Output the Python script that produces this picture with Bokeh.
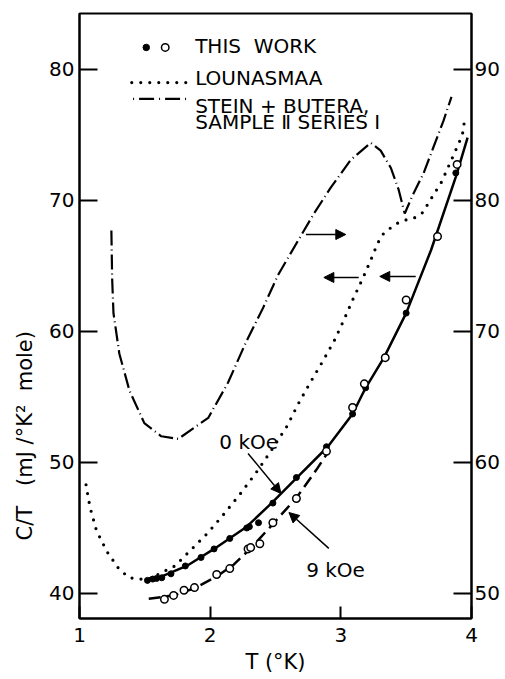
from bokeh.plotting import figure
from bokeh.models import (Range1d, LinearAxis, FixedTicker, Label, Arrow,
                          NormalHead, Title)
from bokeh.embed import file_html
from bokeh.resources import INLINE

# ---------------- data ----------------
x_ticks = [1, 2, 3, 4]
left_ticks = [40, 50, 60, 70, 80]
right_ticks = [50, 60, 70, 80, 90]

# Lounasmaa (left axis)
lou_T = [1.05, 1.08, 1.13, 1.21, 1.30, 1.38, 1.47, 1.53, 1.73, 1.86, 1.98, 2.10,
         2.23, 2.35, 2.46, 2.59, 2.67, 2.76, 2.86, 2.95, 3.02, 3.09, 3.17, 3.24,
         3.28, 3.32, 3.38, 3.44, 3.51, 3.57, 3.63, 3.67, 3.77, 3.86, 3.93, 3.95]
lou_C = [48.3, 46.6, 44.8, 43.2, 41.9, 41.2, 41.1, 41.1, 42.1, 43.4, 44.6, 46.0,
         47.6, 49.2, 50.8, 52.8, 54.4, 56.0, 57.7, 59.3, 60.8, 62.4, 64.1, 65.7,
         66.7, 67.4, 67.9, 68.3, 68.55, 68.7, 69.1, 69.8, 71.4, 73.4, 75.0, 76.3]

# Stein + Butera, sample II series I (right axis)
sb_T = [1.244, 1.25, 1.26, 1.305, 1.382, 1.496, 1.626, 1.756, 1.985, 2.137, 2.275,
        2.405, 2.519, 2.618, 2.794, 2.924, 3.076, 3.229, 3.305, 3.382, 3.443,
        3.489, 3.55, 3.634, 3.71, 3.786, 3.847]
sb_C = [77.7, 74.0, 71.4, 68.3, 65.5, 63.0, 62.0, 61.8, 63.4, 66.1, 69.2,
        71.8, 74.3, 76.0, 79.0, 81.0, 83.1, 84.4, 83.8, 82.5, 80.8,
        79.0, 80.4, 82.1, 84.1, 86.1, 87.9]

# This work, 0 kOe: smooth curve and filled points
s0_T = [1.52, 1.63, 1.82, 2.03, 2.28, 2.47, 2.66, 2.90, 3.09, 3.19, 3.33, 3.50,
        3.69, 3.88, 3.97]
s0_C = [41.0, 41.3, 42.1, 43.4, 45.1, 46.9, 48.8, 51.2, 53.7, 55.7, 58.0, 61.4,
        66.2, 71.8, 74.8]
f_T = [1.52, 1.56, 1.59, 1.63, 1.70, 1.81, 1.93, 2.03, 2.15, 2.28, 2.30, 2.37,
       2.48, 2.66, 2.89, 3.09, 3.19, 3.50, 3.88]
f_C = [41.0, 41.1, 41.15, 41.2, 41.5, 42.1, 42.75, 43.4, 44.2, 45.0, 45.1, 45.4,
       46.9, 48.85, 51.2, 53.7, 55.7, 61.4, 72.1]

# This work, 9 kOe: dashed curve and open points
d9_T = [1.53, 1.72, 1.88, 2.05, 2.18, 2.31, 2.48, 2.66, 2.81, 2.91]
d9_C = [39.6, 39.85, 40.4, 41.3, 42.2, 43.45, 45.3, 47.3, 49.4, 50.9]
o_T = [1.65, 1.72, 1.80, 1.88, 2.05, 2.15, 2.29, 2.31, 2.38, 2.48, 2.66, 2.89,
       3.09, 3.18, 3.34, 3.50, 3.74, 3.89]
o_C = [39.55, 39.85, 40.25, 40.45, 41.45, 41.9, 43.4, 43.5, 43.8, 45.4, 47.25,
       50.85, 54.2, 56.0, 58.0, 62.4, 67.25, 72.75]

# ---------------- figure ----------------
FONT = "DejaVu Sans"
FS = "20px"
FS_T = "21px"
Y0, Y1 = 38.09, 84.27
OFFSET = 10  # right axis = left axis + 10

p = figure(width=502, height=679, x_range=Range1d(1, 4), y_range=Range1d(Y0, Y1),
           output_backend="svg", toolbar_location=None,
           min_border_left=78, min_border_right=31, min_border_top=13,
           min_border_bottom=61)
p.extra_y_ranges = {"right": Range1d(Y0 + OFFSET, Y1 + OFFSET)}
p.grid.visible = False
p.outline_line_color = "black"
p.outline_line_width = 2
p.background_fill_color = "white"
p.border_fill_color = "white"

def style_axis(ax, ticks, tick_in):
    ax.ticker = FixedTicker(ticks=ticks)
    ax.major_tick_in = tick_in
    ax.major_tick_out = 0
    ax.major_tick_line_width = 2
    ax.major_tick_line_color = "black"
    ax.minor_tick_line_color = None
    ax.axis_line_width = 2
    ax.axis_line_color = "black"
    ax.major_label_text_font = FONT
    ax.major_label_text_font_size = FS
    ax.major_label_text_color = "black"

xa = p.xaxis[0]
style_axis(xa, x_ticks, 12)
xa.major_label_standoff = 9
xa.axis_label = "T (\u00b0K)"
xa.axis_label_standoff = 5
xa.axis_label_text_font = FONT
xa.axis_label_text_font_size = FS_T
xa.axis_label_text_font_style = "normal"
xa.axis_label_text_color = "black"

ya = p.yaxis[0]
style_axis(ya, left_ticks, 18)
ya.major_label_standoff = 5
ra = LinearAxis(y_range_name="right")
style_axis(ra, right_ticks, 18)
ra.major_label_standoff = 3
p.add_layout(ra, "right")

# y-axis title (left side, placed lower than centre like the reference)
ytitle = Title(text="C/T\u00a0\u00a0\u00a0(mJ\u00a0/\u00b0K\u00b2\u00a0\u00a0mole)",
               align="left", offset=78, text_font=FONT, text_font_size=FS_T,
               text_font_style="normal", text_color="black")
if "standoff" in Title.properties():
    ytitle.standoff = 20
p.add_layout(ytitle, "left")

# Lounasmaa dotted
p.line(lou_T, lou_C, line_color="black", line_width=3.2, line_dash="0 9",
       line_cap="round")
# Stein + Butera dash-dot (right axis)
p.line(sb_T, sb_C, y_range_name="right", line_color="black", line_width=2.2,
       line_dash="15 4 1 4")
# 0 kOe solid
p.line(s0_T, s0_C, line_color="black", line_width=2.5)
# 9 kOe dashed
p.line(d9_T, d9_C, line_color="black", line_width=2.5, line_dash="12 6")
# points
p.scatter(f_T, f_C, marker="circle", size=6, fill_color="black", line_color="black")
p.scatter(o_T, o_C, marker="circle", size=7.5, fill_color="white",
          line_color="black", line_width=1.5)

# ---------------- legend (drawn by hand, layout positions) ----------------
LX = 1.885
p.scatter([1.511], [81.68], marker="circle", size=6.5, fill_color="black",
          line_color="black")
p.scatter([1.656], [81.68], marker="circle", size=7.5, fill_color="white",
          line_color="black", line_width=1.5)
p.line([1.40, 1.84], [79.0, 79.0], line_color="black", line_width=3.2,
       line_dash="0 9", line_cap="round")
p.line([1.41, 1.84], [77.75, 77.75], line_color="black", line_width=2.2,
       line_dash="1 5 15 5")

def label(x, y, text, align="left", baseline="middle"):
    p.add_layout(Label(x=x, y=y, text=text, text_font=FONT, text_font_size=FS,
                       text_align=align, text_baseline=baseline,
                       text_color="black"))

label(LX, 81.76, "THIS\u00a0\u00a0WORK")
label(LX, 79.31, "LOUNASMAA")
label(LX, 77.18, "STEIN + BUTERA,")
label(LX, 75.95, "SAMPLE \u2161 SERIES \u2160")

# annotations
label(2.07, 51.53, "0 kOe")
label(2.735, 41.76, "9 kOe")

def arrow(x0, y0, x1, y1):
    p.add_layout(Arrow(end=NormalHead(size=10, fill_color="black", line_color="black"),
                       x_start=x0, y_start=y0, x_end=x1, y_end=y1,
                       line_color="black", line_width=1.5))

arrow(2.29, 50.69, 2.542, 47.63)
arrow(2.908, 43.44, 2.603, 46.18)
arrow(2.733, 67.40, 3.038, 67.40)
arrow(3.137, 64.12, 2.87, 64.12)
arrow(3.573, 64.20, 3.298, 64.20)

open("out.html", "w").write(file_html(p, INLINE))
